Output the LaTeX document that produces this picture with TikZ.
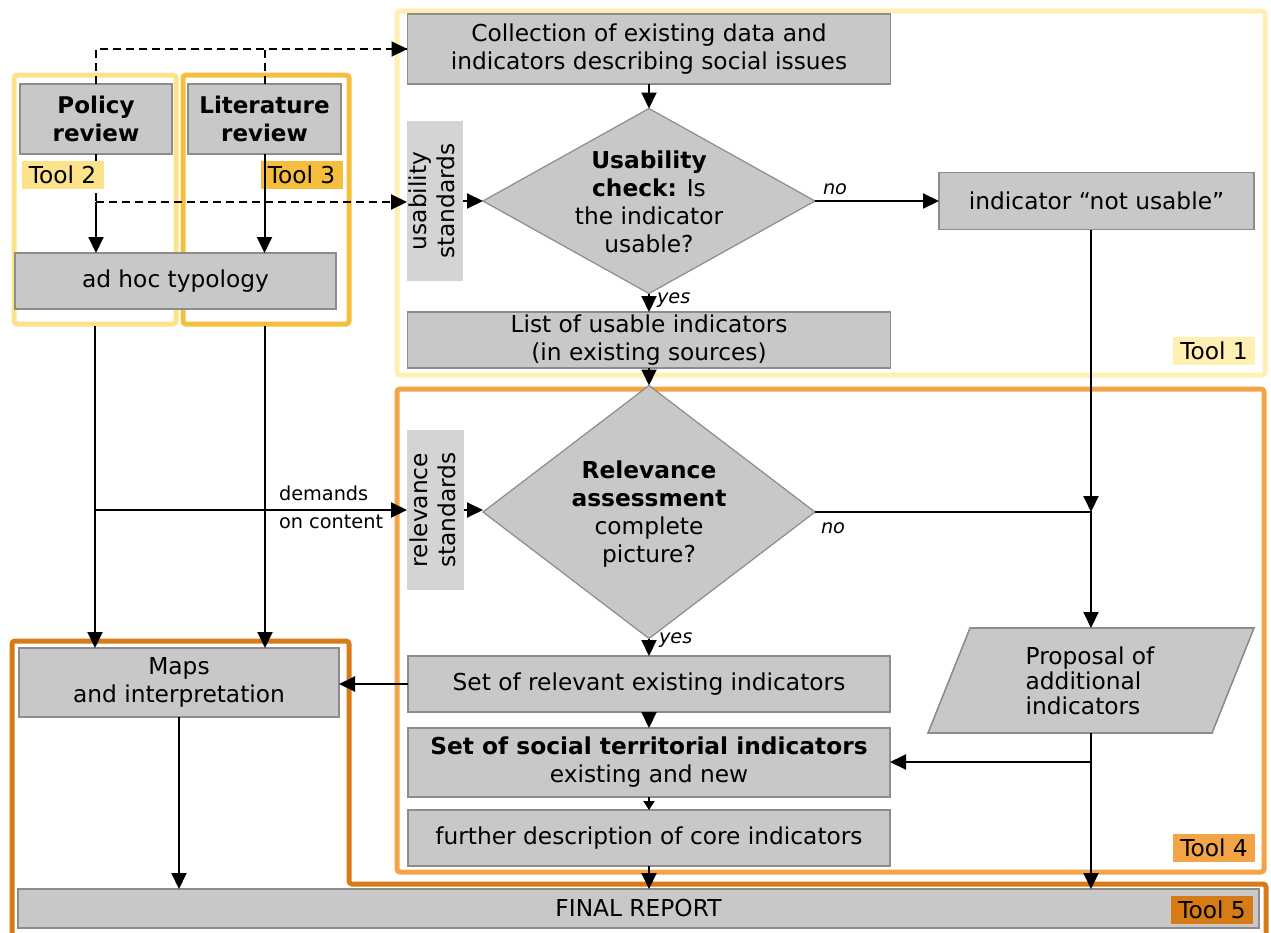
\documentclass[tikz,border=0pt]{standalone}
\usepackage{fontspec}
\usepackage{graphicx}
\setmainfont{DejaVu Sans}
\usetikzlibrary{arrows.meta,calc}

\definecolor{boxfill}{HTML}{C8C8C8}
\definecolor{boxline}{HTML}{8C8C8C}
\definecolor{stdfill}{HTML}{D4D4D4}
\definecolor{toolA}{HTML}{FFEFB3}
\definecolor{toolB}{HTML}{FCE38A}
\definecolor{toolC}{HTML}{F5BF3D}
\definecolor{toolD}{HTML}{F2A447}
\definecolor{toolE}{HTML}{D67B16}

\newcommand\mainfs{\fontsize{23.3}{28}\selectfont}
\newcommand\headfs{\fontsize{23}{28}\selectfont\bfseries}
\newcommand\smallfs{\fontsize{19.3}{28}\selectfont}
\newcommand\propfs{\fontsize{23.3}{25}\selectfont}

\begin{document}
\begin{tikzpicture}[x=1pt,y=-1pt,
  every node/.style={inner sep=0pt, outer sep=0pt, font=\mainfs},
  box/.style={draw=boxline, fill=boxfill, line width=1.8pt, align=center},
  shapeline/.style={draw=boxline, fill=boxfill, line width=1.6pt},
  stdbox/.style={fill=stdfill},
  tag/.style={minimum width=82pt, minimum height=28pt},
  frame/.style={line width=5pt, rounded corners=3pt},
  conn/.style={line width=2pt, -{Triangle[length=16pt,width=15pt]}},
  shortconn/.style={line width=2pt, -{Triangle[length=9pt,width=11pt]}},
  solidline/.style={line width=2pt},
  dashconn/.style={line width=2pt, dash pattern=on 8pt off 5pt, -{Triangle[length=16pt,width=15pt]}},
  dashline/.style={line width=2pt, dash pattern=on 8pt off 5pt},
  ans/.style={font=\smallfs\itshape}
]
\useasboundingbox (0,0) rectangle (1271,932);

% tool frames
\draw[frame, draw=toolA] (397,11) rectangle (1265,375);
\draw[frame, draw=toolD] (397,389) rectangle (1264,872);
\draw[frame, draw=toolB] (14,75) rectangle (176,324);
\draw[frame, draw=toolC] (183,75) rectangle (349,324);
\draw[frame, draw=toolE] (12,945) -- (12,641) -- (349,641) -- (349,884) -- (1266,884) -- (1266,945);

\coordinate (f2b) at (95,326);
\coordinate (f3b) at (265,326);

% left column: reviews and typology
\node[box, minimum width=152pt, minimum height=70pt, font=\headfs] (pol) at (96,119) {Policy\\review};
\node[box, minimum width=153pt, minimum height=70pt, font=\headfs] (lit) at (264.5,119) {Literature\\review};
\node[tag, fill=toolC] (t3) at (301.5,175) {Tool 3};
\node[box, minimum width=321pt, minimum height=56pt] (adhoc) at (175.5,281) {ad hoc typology};

% usability check
\node[box, minimum width=483pt, minimum height=70pt] (coll) at (649,49)
  {Collection of existing data and\\indicators describing social issues};
\node[stdbox, minimum width=56pt, minimum height=160pt] (ustd) at (435,201)
  {\rotatebox{90}{\begin{tabular}{@{}c@{}}usability\\standards\end{tabular}}};
\node[minimum width=332pt, minimum height=185pt] (udia) at (649,201) {};
\draw[shapeline, line width=1.2pt] (udia.north) -- (udia.east) -- (udia.south) -- (udia.west) -- cycle;
\node[align=center] (udiaT) at (649,202)
  {\textbf{Usability}\\\textbf{check:} Is\\the indicator\\usable?};
\node[box, minimum width=315pt, minimum height=57pt] (nu) at (1096.5,201) {indicator “not usable”};
\node[box, minimum width=483pt, minimum height=56pt] (list) at (649,340)
  {List of usable indicators\\(in existing sources)};
\node[tag, fill=toolA] (t1) at (1214,350.5) {Tool 1};

% relevance assessment
\node[stdbox, minimum width=57pt, minimum height=160pt] (rstd) at (435.5,510)
  {\rotatebox{90}{\begin{tabular}{@{}c@{}}relevance\\standards\end{tabular}}};
\node[minimum width=332pt, minimum height=253pt] (rdia) at (649,512) {};
\draw[shapeline, line width=1.2pt] (rdia.north) -- (rdia.east) -- (rdia.south) -- (rdia.west) -- cycle;
\node[align=center] (rdiaT) at (649,514)
  {\textbf{Relevance}\\\textbf{assessment}\\complete\\picture?};
\node[box, minimum width=482pt, minimum height=56pt] (srel) at (649,684) {Set of relevant existing indicators};
\node[box, minimum width=482pt, minimum height=69pt] (ssoc) at (649,762.5)
  {\textbf{Set of social territorial indicators}\\existing and new};
\node[box, minimum width=482pt, minimum height=56pt] (fur) at (649,838) {further description of core indicators};
\node[minimum width=242pt, minimum height=105pt] (prop) at (1091,680.5) {};
\draw[shapeline] (prop.north west) -- ($(prop.north east)+(42,0)$) -- (prop.south east)
  -- ($(prop.south west)+(-42,0)$) -- cycle;
\node[align=left, font=\propfs] (propT) at (1090,681) {Proposal of\\additional\\indicators};
\node[tag, fill=toolD] (t4) at (1214,848) {Tool 4};

% outputs
\node[box, minimum width=320pt, minimum height=69pt] (maps) at (179,682.5) {Maps\\and interpretation};
\node[box, minimum width=1241pt, minimum height=39pt] (final) at (638.5,908.5) {FINAL REPORT};
\node[tag, fill=toolE] (t5) at (1212,910) {Tool 5};

% connectors
\coordinate (d1) at (96,202);
\coordinate (dm) at (95,510);
\coordinate (jn) at (1091,512);
\coordinate (jp) at (1091,762);
\draw[dashconn] (pol.north) |- (coll.west);
\draw[dashline] (lit.north) |- (coll.west);
\draw[dashline] (pol.south) -- (d1);
\draw[conn] (d1) -- (d1 |- adhoc.north);
\draw[dashconn] (d1) -- (d1 -| ustd.west);
\draw[conn] (lit.south) -- (lit.south |- adhoc.north);
\draw[conn] (coll.south) -- (udia.north);
\draw[conn] (ustd.east) -- (ustd.east -| udia.west);
\draw[conn] (udia.east) -- (nu.west);
\draw[conn] (udia.south) -- (list.north);
\draw[conn] (list.south) -- (rdia.north);
\draw[conn] (jn |- nu.south) -- (jn);
\draw[conn] (rdia.east) -| (prop.north);
\draw[conn] (f2b) -- (f2b |- maps.north);
\draw[conn] (f3b) -- (f3b |- maps.north);
\draw[conn] (dm) -- (dm -| rstd.west);
\draw[conn] (rstd.east) -- (rstd.east -| rdia.west);
\draw[conn] (rdia.south) -- (srel.north);
\draw[conn] (srel.west) -- (srel.west -| maps.east);
\draw[conn] (srel.south) -- (ssoc.north);
\draw[shortconn] (ssoc.south) -- (fur.north);
\draw[conn] (fur.south) -- (fur.south |- final.north);
\draw[conn] (maps.south) -- (maps.south |- final.north);
\draw[conn] (prop.south) -- (prop.south |- final.north);
\draw[conn] (jp) -- (jp -| ssoc.east);

\node[tag, fill=toolB] (t2) at (62.5,175) {Tool 2};

% connector labels
\node[ans, anchor=west] (no1) at (823,189) {no};
\node[ans, anchor=west] (no2) at (821,528) {no};
\node[ans, anchor=west] (yes1) at (657,300) {yes};
\node[ans, anchor=west] (yes2) at (659,640) {yes};
\node[align=left, anchor=west, font=\smallfs] (dem) at (279,507) {demands\\on content};
\end{tikzpicture}
\end{document}
